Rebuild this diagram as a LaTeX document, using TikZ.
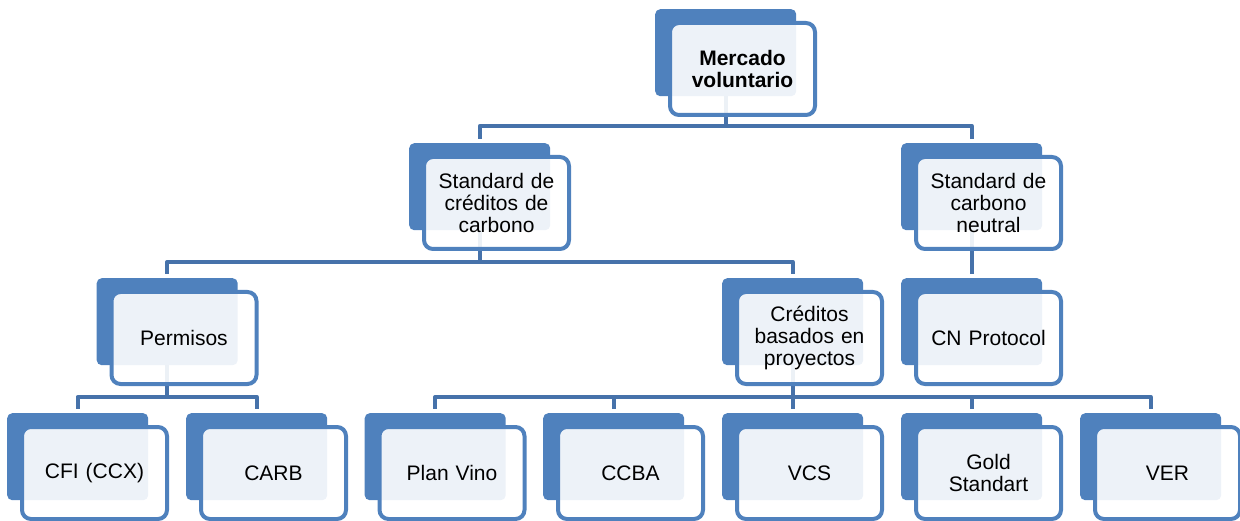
\documentclass[tikz,border=0pt]{standalone}
\usepackage{fontspec}
\setmainfont{Liberation Sans}
\usetikzlibrary{backgrounds}
\definecolor{boxblue}{HTML}{4F81BD}
\definecolor{linkblue}{HTML}{4672AA}
\tikzset{
 backbox/.style={draw=none, fill=boxblue, rounded corners=5pt, minimum width=141pt, minimum height=87pt, inner sep=0pt, anchor=north west},
 frontbox/.style={draw=boxblue, line width=4pt, fill=white, fill opacity=0.9, text opacity=1, rounded corners=9pt, minimum width=145pt, minimum height=92pt, inner sep=2pt, anchor=north west, align=center, text width=141pt, font=\fontsize{21}{21.7}\selectfont},
 conn/.style={draw=linkblue, line width=4pt, line join=round}
}
\newcommand{\tnode}[4]{%
 \node[backbox] (#1b) at (#2,#3) {};
 \node[frontbox] (#1) at (#2+13,#3+12) {#4};
}
\begin{document}
\begin{tikzpicture}[x=1pt,y=-1pt]
\useasboundingbox (0,0) rectangle (1240,521);
\tnode{top}{655}{9}{\textbf{Mercado}\\\textbf{voluntario}}
\tnode{scc}{409}{143}{Standard de\\créditos de\\carbono}
\tnode{scn}{901}{143}{Standard de\\carbono\\neutral}
\tnode{perm}{96.5}{278}{Permisos}
\tnode{cbp}{722}{278}{Créditos\\basados en\\proyectos}
\tnode{cnp}{901}{278}{CN Protocol}
\tnode{cfi}{7}{413}{CFI (CCX)}
\tnode{carb}{186}{413}{CARB}
\tnode{pv}{364.5}{413}{Plan Vino}
\tnode{ccba}{543}{413}{CCBA}
\tnode{vcs}{722}{413}{VCS}
\tnode{gold}{901}{413}{Gold\\Standart}
\tnode{ver}{1080}{413}{VER}
\coordinate (m1) at (0,126);
\coordinate (m2) at (0,262);
\coordinate (m3) at (0,397);
\begin{pgfonlayer}{background}
\draw[conn] (topb.south) -- (topb.south |- m1) -| ([yshift=4pt]sccb.north);
\draw[conn] (topb.south) -- (topb.south |- m1) -| ([yshift=4pt]scnb.north);
\draw[conn] (sccb.south) -- (sccb.south |- m2) -| ([yshift=4pt]permb.north);
\draw[conn] (sccb.south) -- (sccb.south |- m2) -| ([yshift=4pt]cbpb.north);
\draw[conn] (scnb.south) -- ([yshift=4pt]cnpb.north);
\draw[conn] (permb.south) -- (permb.south |- m3) -| ([yshift=4pt]cfib.north);
\draw[conn] (permb.south) -- (permb.south |- m3) -| ([yshift=4pt]carbb.north);
\draw[conn] (cbpb.south) -- (cbpb.south |- m3) -| ([yshift=4pt]pvb.north);
\draw[conn] (cbpb.south) -- (cbpb.south |- m3) -| ([yshift=4pt]ccbab.north);
\draw[conn] (cbpb.south) -- ([yshift=4pt]vcsb.north);
\draw[conn] (cbpb.south) -- (cbpb.south |- m3) -| ([yshift=4pt]goldb.north);
\draw[conn] (cbpb.south) -- (cbpb.south |- m3) -| ([yshift=4pt]verb.north);
\end{pgfonlayer}
\end{tikzpicture}
\end{document}
